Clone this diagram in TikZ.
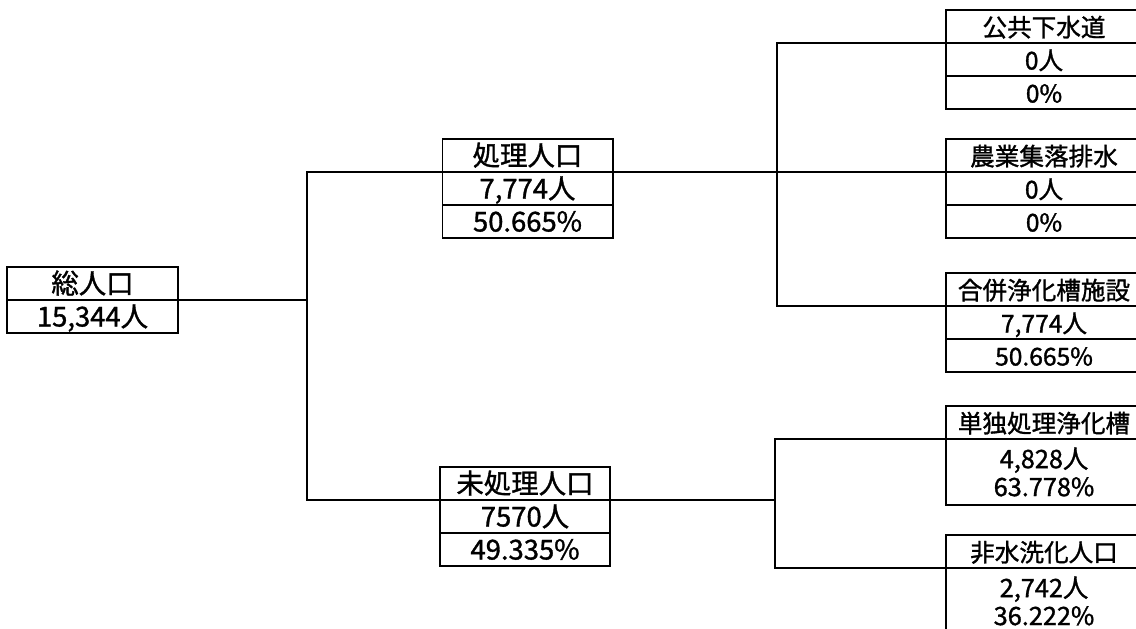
\documentclass[tikz,border=0pt]{standalone}
\usepackage{fontspec}
\newfontfamily\cjk[FakeBold=1.2]{Noto Sans CJK JP}
\usetikzlibrary{positioning}

\tikzset{
    tree cell/.style={
        draw,line width=1.4pt,outer sep=0pt,inner sep=0pt,
        minimum width=4.25cm,minimum height=.825cm,
        text height=.6cm,text depth=.1cm,
        font=\cjk\fontsize{19.5}{22}\selectfont
    },
    side cell/.style={
        tree cell,minimum width=4.9cm,
        font=\cjk\fontsize{17.5}{20}\selectfont
    },
    double cell/.style={
        draw,line width=1.4pt,outer sep=0pt,inner sep=0pt,
        minimum width=4.9cm,minimum height=1.65cm,align=center,
        font=\cjk\fontsize{18}{19.9}\selectfont
    },
    link/.style={line width=1.4pt}
}

\begin{document}
\begin{tikzpicture}[x=.025cm,y=-.025cm]
    \useasboundingbox (0,0) rectangle (1136,629);
    \clip (0,0) rectangle (1136,629);
    % total
    \node[tree cell] (tot1) at (92.5,283.5) {総人口};
    \node[tree cell,below=0pt of tot1] (tot2) {15,344人};
    % treated / untreated
    \foreach \nm/\x/\y/\ttl/\num/\pct in {proc/527.5/155.5/処理人口/{7,774人}/50.665\%,
                                        unp/525/483.5/未処理人口/7570人/49.335\%}{
        \node[tree cell] (\nm1) at (\x,\y) {\ttl};
        \node[tree cell,below=0pt of \nm1] (\nm2) {\num};
        \node[tree cell,below=0pt of \nm2] (\nm3) {\pct};
    }
    % treated by
    \foreach \nm/\y/\ttl/\num/\pct in {sew/26.5/公共下水道/0人/0\%,
                                      agr/155.5/農業集落排水/0人/0\%,
                                      gap/289.5/合併浄化槽施設/{7,774人}/50.665\%}{
        \node[side cell] (\nm1) at (1044,\y) {\ttl};
        \node[side cell,below=0pt of \nm1] (\nm2) {\num};
        \node[side cell,below=0pt of \nm2] (\nm3) {\pct};
    }
    % untreated by
    \node[side cell] (sgl1) at (1044,422.5) {単独処理浄化槽};
    \node[double cell,below=0pt of sgl1] (sgl2) {4,828人\\63.778\%};
    \node[side cell] (non1) at (1044,551.5) {非水洗化人口};
    \node[double cell,below=0pt of non1] (non2) {2,742人\\36.222\%};
    % lines
    \coordinate (jA) at (307,300);
    \coordinate (jB) at (777,172);
    \coordinate (jC) at (775,500);
    \draw[link] (tot1.south east) -- (jA);
    \draw[link] (proc1.south west) -| (jA) |- (unp1.south west);
    \draw[link] (proc1.south east) -- (agr1.south west);
    \draw[link] (sew1.south west) -| (jB) |- (gap1.south west);
    \draw[link] (unp1.south east) -- (jC);
    \draw[link] (sgl1.south west) -| (jC) |- (non1.south west);
\end{tikzpicture}
\end{document}
